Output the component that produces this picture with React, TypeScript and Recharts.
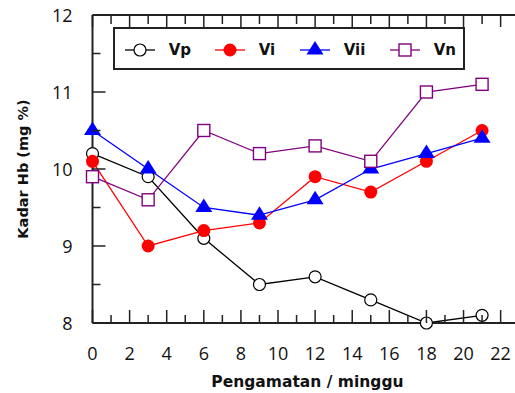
import { LineChart, Line, XAxis, YAxis, Legend } from "recharts";

// pengamatan (minggu)
const weeks = [0, 3, 6, 9, 12, 15, 18, 21];

// kadar Hb (mg %)
const vp = [10.2, 9.9, 9.1, 8.5, 8.6, 8.3, 8.0, 8.1];
const vi = [10.1, 9.0, 9.2, 9.3, 9.9, 9.7, 10.1, 10.5];
const vii = [10.5, 10.0, 9.5, 9.4, 9.6, 10.0, 10.2, 10.4];
const vn = [9.9, 9.6, 10.5, 10.2, 10.3, 10.1, 11.0, 11.1];

const xTicks = [0, 1, 2, 3, 4, 5, 6, 7, 8, 9, 10, 11, 12, 13, 14, 15, 16, 17, 18, 19, 20, 21, 22];
const yTicks = [8, 8.5, 9, 9.5, 10, 10.5, 11, 11.5, 12];

const data = weeks.map((w, i) => ({
  minggu: w,
  Vp: vp[i],
  Vi: vi[i],
  Vii: vii[i],
  Vn: vn[i],
}));

const series = [
  { key: "Vp", color: "#000000", shape: "openCircle" },
  { key: "Vi", color: "#ff0000", shape: "dot" },
  { key: "Vii", color: "#0000ff", shape: "triangle" },
  { key: "Vn", color: "#800080", shape: "openSquare" },
];

const legendSlots = [90, 85, 90, 60];

const AXIS = "#222";
const TICK_FONT = "'Open Sans', sans-serif";
const BOLD_FONT = "'DejaVu Sans', sans-serif";

function Marker({ shape, color, cx, cy }: any) {
  if (shape === "openCircle")
    return <circle cx={cx} cy={cy} r={6} fill="#fff" stroke={color} strokeWidth={1.2} />;
  if (shape === "dot") return <circle cx={cx} cy={cy} r={6.5} fill={color} stroke="none" />;
  if (shape === "triangle")
    return (
      <polygon
        points={`${cx},${cy - 9} ${cx - 8.5},${cy + 4.5} ${cx + 8.5},${cy + 4.5}`}
        fill={color}
      />
    );
  return (
    <rect x={cx - 6} y={cy - 6} width={12} height={12} fill="#fff" stroke={color} strokeWidth={1.4} />
  );
}

const BottomTick = ({ x, y, payload }: any) => {
  const v = payload.value;
  const major = v % 2 === 0;
  return (
    <g>
      <line x1={x} x2={x} y1={y} y2={y - (major ? 13 : 8)} stroke={AXIS} strokeWidth={1.5} />
      {major && (
        <text x={x} y={y + 37} textAnchor="middle" fontSize={18} fontFamily={TICK_FONT} fill="#111">
          {v}
        </text>
      )}
    </g>
  );
};

const TopTick = ({ x, y, payload }: any) => {
  const major = payload.value % 2 === 0;
  return <line x1={x} x2={x} y1={y} y2={y + (major ? 12 : 9)} stroke={AXIS} strokeWidth={1.5} />;
};

const LeftTick = ({ x, y, payload }: any) => {
  const v = payload.value;
  const major = Number.isInteger(v);
  return (
    <g>
      <line x1={x} x2={x + (major ? 13 : 8)} y1={y} y2={y} stroke={AXIS} strokeWidth={1.5} />
      {major && (
        <text x={x - 20} y={y + 6.5} textAnchor="end" fontSize={18} fontFamily={TICK_FONT} fill="#111">
          {v}
        </text>
      )}
    </g>
  );
};

const RightTick = ({ x, y, payload }: any) => {
  const major = Number.isInteger(payload.value);
  return <line x1={x} x2={x - (major ? 10 : 6)} y1={y} y2={y} stroke={AXIS} strokeWidth={1.5} />;
};

const XTitle = ({ viewBox }: any) => (
  <text
    x={viewBox.x + viewBox.width / 2 + 3}
    y={viewBox.y + 64}
    textAnchor="middle"
    fontSize={15.5}
    fontWeight="bold"
    fontFamily={BOLD_FONT}
    fill="#111"
  >
    Pengamatan / minggu
  </text>
);

const YTitle = ({ viewBox }: any) => {
  const cx = 14.5;
  const cy = viewBox.y + viewBox.height / 2;
  return (
    <text
      x={cx}
      y={cy}
      transform={`rotate(-90 ${cx} ${cy})`}
      textAnchor="middle"
      dominantBaseline="central"
      fontSize={14.5}
      fontWeight="bold"
      fontFamily={BOLD_FONT}
      fill="#111"
    >
      Kadar Hb (mg %)
    </text>
  );
};

const renderLegend = () => (
  <div
    style={{
      boxSizing: "border-box",
      width: "100%",
      height: "100%",
      border: `2px solid ${AXIS}`,
      background: "#fff",
      display: "flex",
      alignItems: "center",
      paddingLeft: 10,
      paddingTop: 2,
    }}
  >
    {series.map((s, i) => (
      <div key={s.key} style={{ width: legendSlots[i], display: "flex", alignItems: "center", flex: "none" }}>
        <svg width={30} height={20} style={{ overflow: "visible" }}>
          <line x1={0} x2={30} y1={10} y2={10} stroke={s.color} strokeWidth={1.3} />
          <Marker shape={s.shape} color={s.color} cx={15} cy={10} />
        </svg>
        <span
          style={{
            marginLeft: 14,
            fontFamily: BOLD_FONT,
            fontWeight: "bold",
            fontSize: 15,
            color: "#111",
          }}
        >
          {s.key}
        </span>
      </div>
    ))}
  </div>
);

export default function App() {
  return (
    <div style={{ position: "absolute", left: 8, top: 0, width: 507, height: 393, overflow: "hidden" }}>
      <LineChart width={520} height={393} data={data} margin={{ top: 14, right: 10.6, left: 0, bottom: 0 }}>
        <XAxis
          dataKey="minggu"
          type="number"
          domain={[0, 22.85]}
          ticks={xTicks}
          interval={0}
          height={70}
          tickSize={0}
          tickMargin={0}
          tickLine={false}
          tick={<BottomTick />}
          axisLine={{ stroke: AXIS, strokeWidth: 2 }}
          label={XTitle}
        />
        <XAxis
          xAxisId="top"
          orientation="top"
          dataKey="minggu"
          type="number"
          domain={[0, 22.85]}
          ticks={xTicks}
          interval={0}
          height={1}
          tickSize={0}
          tickMargin={0}
          tickLine={false}
          tick={<TopTick />}
          axisLine={{ stroke: AXIS, strokeWidth: 2 }}
        />
        <YAxis
          type="number"
          domain={[8, 12]}
          ticks={yTicks}
          interval={0}
          width={84.5}
          tickSize={0}
          tickMargin={0}
          tickLine={false}
          tick={<LeftTick />}
          axisLine={{ stroke: AXIS, strokeWidth: 2 }}
          label={YTitle}
        />
        <YAxis
          yAxisId="r"
          orientation="right"
          type="number"
          domain={[8, 12]}
          ticks={yTicks}
          interval={0}
          width={1}
          tickSize={0}
          tickMargin={0}
          tickLine={false}
          tick={<RightTick />}
          axisLine={{ stroke: AXIS, strokeWidth: 2 }}
        />
        <Legend
          layout="horizontal"
          verticalAlign="middle"
          align="center"
          content={renderLegend}
          wrapperStyle={{ left: 104.7, top: 27, width: 352, height: 43 }}
        />
        {series.map((s) => (
          <Line
            key={s.key}
            type="linear"
            dataKey={s.key}
            stroke={s.color}
            strokeWidth={1.3}
            dot={(p: any) => (
              <Marker key={`${s.key}-${p.index}`} shape={s.shape} color={s.color} cx={p.cx} cy={p.cy} />
            )}
            activeDot={false}
            isAnimationActive={false}
          />
        ))}
      </LineChart>
    </div>
  );
}
